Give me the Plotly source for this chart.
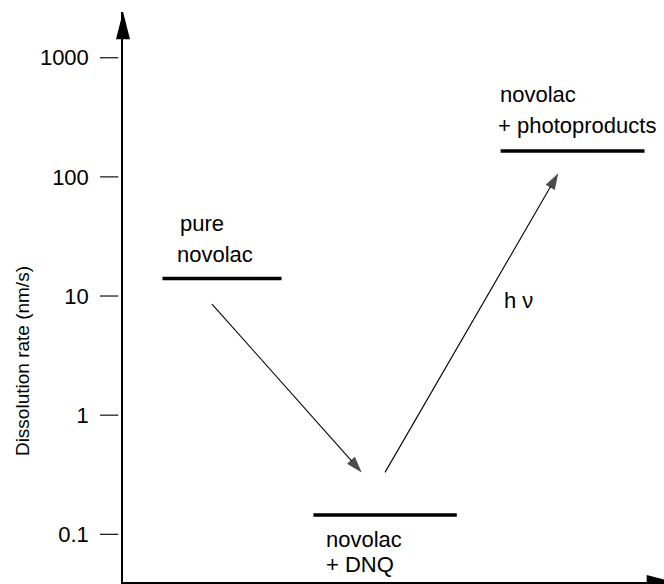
import plotly.graph_objects as go
import numpy as np

# ---- data ----
level_names = [["pure", "novolac"], ["novolac", "+ DNQ"], ["novolac", "+ photoproducts"]]
level_values = [14, 0.145, 165]          # dissolution rate (nm/s)
level_x_start = [0.73, 3.52, 6.98]
level_x_end = [2.93, 6.17, 9.64]
arrow_x = [[1.645, 4.412], [4.843, 8.046]]
arrow_y = [[8.57, 0.331], [0.331, 107]]
tick_vals = [0.1, 1, 10, 100, 1000]
tick_text = ["0.1", "1", "10", "100", "1000"]
hv_label = "h ν"

W, H = 664, 584
ML, MR, MT, MB = 123, 0, 12, 2
PW, PH = W - ML - MR, H - MT - MB
FONT = "Arial, Liberation Sans, sans-serif"


def px(p):
    return (p - ML) / PW


def py(p):
    return (H - MB - p) / PH


fig = go.Figure()

# energy-level bars
for xs, xe, v in zip(level_x_start, level_x_end, level_values):
    fig.add_trace(go.Scatter(x=[xs, xe], y=[v, v], mode="lines",
                             line=dict(color="black", width=3.5),
                             hoverinfo="skip", showlegend=False))

# transition arrows
for ax_, ay_ in zip(arrow_x, arrow_y):
    fig.add_trace(go.Scatter(x=ax_, y=ay_, mode="lines+markers",
                             line=dict(color="black", width=1.1),
                             marker=dict(symbol="arrow", size=[0, 17], angleref="previous",
                                         color="black", line=dict(width=0)),
                             cliponaxis=False, hoverinfo="skip", showlegend=False))

annotations = []
# labels for levels
shifts = [[55, 24], [-24, -49], [56, 25]]
xoff = [[0.296, 0.246], [0.218, 0.214], [-0.029, -0.067]]
for names, xs, v, sh, xo in zip(level_names, level_x_start, level_values, shifts, xoff):
    for name, s, o in zip(names, sh, xo):
        annotations.append(dict(x=xs + o, y=np.log10(v), xref="x", yref="y",
                                text=name, showarrow=False, xanchor="left", yanchor="middle",
                                yshift=s, borderpad=0,
                                font=dict(family=FONT, size=22, color="black")))

annotations.append(dict(x=7.03, y=0.966, xref="x", yref="y", text=hv_label, showarrow=False,
                        xanchor="left", yanchor="middle", borderpad=0,
                        font=dict(family=FONT, size=22, color="black")))

annotations.append(dict(x=px(22), y=0.454, xref="paper", yref="y",
                        text="Dissolution rate (nm/s)", textangle=-90, showarrow=False,
                        xanchor="center", yanchor="middle",
                        font=dict(family=FONT, size=19, color="black")))

shapes = []
# tick marks detached from the axis
for v in tick_vals:
    shapes.append(dict(type="line", xref="paper", yref="y", x0=px(100), x1=px(118.3),
                       y0=v, y1=v, line=dict(color="#222", width=1.3)))
# axis arrowheads
shapes.append(dict(type="path", xref="paper", yref="paper",
                   path=f"M {px(123)},{py(11.7)} L {px(116)},{py(39.3)} L {px(130)},{py(39.3)} Z",
                   fillcolor="black", line=dict(width=0)))
shapes.append(dict(type="path", xref="paper", yref="paper",
                   path=f"M {px(674.3)},{py(582)} L {px(646.7)},{py(575)} L {px(646.7)},{py(589)} Z",
                   fillcolor="black", line=dict(width=0)))

fig.update_layout(
    width=W, height=H,
    margin=dict(l=ML, r=MR, t=MT, b=MB, pad=0),
    plot_bgcolor="white", paper_bgcolor="white",
    showlegend=False,
    annotations=annotations, shapes=shapes,
    xaxis=dict(range=[0, 10], showgrid=False, zeroline=False, showticklabels=False,
               ticks="", showline=True, linecolor="black", linewidth=1.5, fixedrange=True),
    yaxis=dict(type="log", range=[-1.400, 3.3836], showgrid=False, zeroline=False,
               tickvals=tick_vals, ticktext=tick_text, ticks="",
               showline=True, linecolor="black", linewidth=1.5,
               ticklabelstandoff=28,
               tickfont=dict(family=FONT, size=22, color="black"), fixedrange=True),
)

fig.write_html("out.html")
